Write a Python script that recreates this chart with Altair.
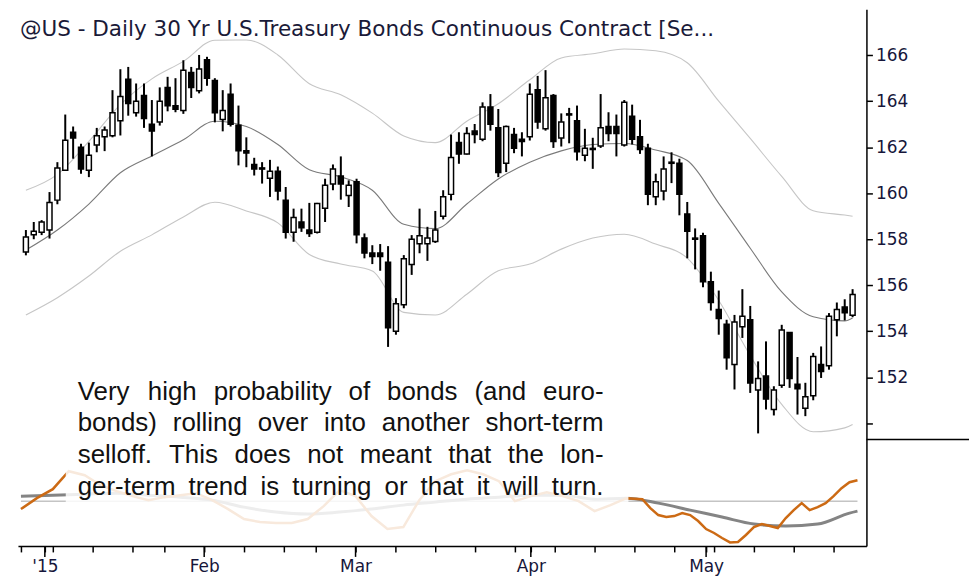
import altair as alt
import pandas as pd

# ---------------- data ----------------
opens = [157.45, 158.2, 158.3, 158.4, 159.7, 161.0, 162.65, 162.0, 161.0, 162.1,
         162.45, 162.5, 163.15, 164.95, 163.5, 164.25, 163.0, 163.1, 164.6, 163.8,
         163.6, 165.25, 164.45, 165.8, 164.9, 163.2, 164.3, 162.95, 161.85, 161.25,
         161.1, 160.65, 160.95, 159.7, 158.3, 158.75, 158.4, 158.3, 159.35, 160.4,
         160.75, 159.9, 160.5, 158.05, 157.4, 157.4, 157.0, 154.0, 155.15, 156.9,
         157.8, 157.8, 157.9, 159.0, 159.95, 162.2, 161.7, 162.7, 162.35, 163.75,
         162.85, 161.3, 162.55, 162.35, 162.45, 164.5, 162.8, 164.25, 162.4, 163.45,
         163.15, 161.65, 161.9, 162.05, 162.9, 162.9, 162.1, 163.35, 162.45, 161.95,
         159.85, 160.1, 161.3, 161.3, 159.1, 158.05, 158.15, 156.15, 154.95, 154.3,
         152.55, 154.2, 154.5, 151.45, 152.05, 150.6, 151.65, 153.95, 151.7, 150.65,
         151.2, 152.55, 152.5, 154.5, 155.05, 154.7]
highs = [158.4, 158.75, 158.83, 160.05, 161.35, 163.42, 162.9, 162.15, 162.2, 162.84,
         162.9, 164.48, 165.39, 165.49, 164.77, 164.77, 164.05, 164.6, 165.06, 165.0,
         165.78, 165.49, 166.01, 165.93, 165.0, 164.48, 164.77, 163.81, 162.43, 161.54,
         161.35, 161.45, 161.16, 160.27, 159.33, 159.33, 159.58, 159.58, 160.63, 161.25,
         161.6, 160.56, 160.63, 158.25, 157.74, 157.79, 157.7, 155.44, 157.31, 158.18,
         159.33, 158.54, 159.23, 160.13, 162.55, 162.65, 162.87, 163.01, 163.95, 164.31,
         163.66, 162.94, 162.84, 162.65, 164.77, 165.1, 165.35, 164.31, 163.47, 163.71,
         163.81, 162.8, 162.41, 164.31, 163.52, 163.42, 164.05, 163.85, 163.19, 162.15,
         160.85, 161.6, 161.78, 161.5, 159.62, 158.47, 158.28, 156.59, 155.77, 154.5,
         154.71, 155.83, 155.1, 152.69, 153.56, 151.61, 154.28, 153.95, 152.88, 151.76,
         153.06, 153.34, 154.79, 155.25, 155.39, 155.83]
lows = [157.3, 158.0, 158.18, 158.03, 159.52, 161.0, 161.5, 160.85, 160.7, 161.78,
        161.83, 162.43, 162.51, 163.37, 163.33, 162.84, 161.6, 162.94, 163.56, 163.52,
        163.45, 164.14, 164.34, 164.67, 163.08, 162.69, 162.9, 161.21, 161.13, 160.77,
        160.42, 159.84, 159.69, 158.03, 157.89, 158.32, 158.1, 158.25, 158.75, 160.13,
        159.72, 159.4, 157.82, 157.17, 156.92, 156.63, 153.32, 153.85, 155.0, 156.45,
        157.39, 157.06, 157.84, 158.86, 159.69, 161.28, 161.68, 162.17, 162.26, 162.72,
        160.7, 160.92, 161.74, 161.6, 162.29, 162.8, 162.72, 161.97, 162.03, 162.17,
        161.42, 161.39, 161.06, 161.97, 162.26, 161.6, 162.03, 162.12, 161.71, 159.48,
        159.48, 159.69, 160.44, 159.04, 157.17, 156.69, 155.91, 154.9, 153.85, 152.33,
        151.47, 153.71, 151.32, 149.56, 150.6, 150.34, 151.54, 151.54, 150.38, 150.31,
        151.0, 151.97, 152.33, 153.78, 154.47, 154.61]
closes = [158.1, 158.35, 158.75, 159.6, 161.1, 162.3, 162.4, 161.05, 161.65, 162.5,
          162.75, 163.5, 164.2, 163.9, 164.0, 163.25, 162.7, 164.0, 163.8, 163.65,
          165.35, 164.6, 165.4, 165.0, 163.5, 163.6, 163.0, 161.85, 161.75, 161.05,
          161.05, 160.95, 160.1, 158.3, 158.95, 158.5, 158.25, 159.55, 160.35, 161.05,
          160.4, 160.35, 158.2, 157.4, 157.25, 157.25, 154.15, 155.2, 157.15, 158.0,
          158.15, 158.05, 158.4, 159.85, 161.55, 161.7, 162.6, 162.55, 163.75, 163.0,
          160.9, 162.9, 161.95, 162.25, 164.3, 163.1, 164.15, 162.25, 163.1, 163.4,
          161.8, 161.95, 161.95, 162.85, 162.6, 162.6, 163.95, 162.35, 161.9, 159.95,
          160.5, 161.05, 161.35, 159.95, 158.35, 158.0, 156.15, 155.25, 154.55, 152.85,
          154.4, 154.65, 151.75, 151.95, 151.05, 151.45, 154.05, 151.95, 151.5, 151.15,
          152.9, 152.25, 154.65, 154.95, 154.8, 155.6]

band_days = [0, 4, 8, 12, 16, 20, 24, 28, 32, 36, 40, 44, 48, 52, 56, 60, 64, 68,
             72, 76, 80, 84, 88, 92, 96, 100, 104, 105]
upper_band = [160.13, 160.82, 162.25, 163.85, 164.97, 165.73, 166.65, 166.66, 166.01,
              164.76, 164.28, 163.48, 162.49, 162.2, 163.13, 163.89, 164.93, 165.88,
              166.06, 166.27, 166.19, 165.67, 164.0, 162.38, 160.73, 159.24, 159.05, 159.0]
middle_band = [157.53, 158.4, 159.53, 160.89, 161.62, 162.32, 163.13, 162.9, 162.12,
               161.02, 160.71, 160.13, 158.65, 158.46, 159.53, 160.62, 161.35, 161.84,
               162.12, 162.16, 161.88, 161.42, 159.56, 157.61, 155.71, 154.63, 154.45, 154.58]
lower_band = [154.71, 155.46, 156.4, 157.48, 158.19, 158.97, 159.61, 159.23, 158.71,
              157.34, 156.92, 156.62, 154.82, 154.71, 155.61, 156.63, 156.92, 157.57,
              158.05, 158.22, 157.79, 157.18, 155.34, 152.94, 150.82, 149.63, 149.8, 149.95]

osc_days = list(range(0, 76, 2)) + list(range(76, 106))
osc_fast = [-8, 3, 12, 30, 26, 16, 10, 5, 1, 4, 6, 8, 1, -8, -18, -21, -22, -22, -18,
            -5, 11, 5, -15, -28, -26, 1, 20, 27, 31, 27, 20, 0, 5, 9, 5, 0, -10, -4,
            3, 2.5, 2, -7, -14, -16, -15, -12, -14, -20, -28, -32, -37, -41.5, -41,
            -34, -26, -23, -25, -27, -17, -9, -2, -9, -6, -2, 5, 13, 19, 21]
osc_slow = [5, 6, 7, 8, 6, 4, 1, -6, -11, -13, -11, -8, -4, -1, 2, 4, 6, 6, 2, 3,
            -2, -9, -16, -23, -25, -23, -12, -10]

month_days = [3, 23, 42, 64, 86]
month_labels = ["'15", "Feb", "Mar", "Apr", "May"]
week_days = [0, 4, 9, 14, 18, 23, 28, 33, 37, 42, 47, 52, 57, 62, 67, 72, 77, 82,
             87, 92, 97, 102]
price_ticks = [150, 152, 154, 156, 158, 160, 162, 164, 166]

title_text = "@US - Daily  30 Yr U.S.Treasury Bonds Continuous Contract [Se..."
note_lines = [
    "Very high probability of bonds (and euro-",
    "bonds) rolling over into another short-term",
    "selloff. This does not meant that the lon-",
    "ger-term trend is turning or that it will turn.",
]

# ---------------- layout constants ----------------
W = 852          # plot width (px)
H_PRICE = 432    # price pane height
H_OSC = 107      # oscillator pane height
X_DOMAIN = [-0.375, 106.125]   # 8 px per trading day
PX_PER_DAY = W / (X_DOMAIN[1] - X_DOMAIN[0])
P_DOMAIN = [149.3, 168.0]
V_DOMAIN = [-45, 62]           # 1 unit per px
AXIS_FONT = "DejaVu Sans"
AXIS_COLOR = "#16163a"

xs = alt.Scale(domain=X_DOMAIN, nice=False, zero=False)
ps = alt.Scale(domain=P_DOMAIN, nice=False, zero=False)
vs = alt.Scale(domain=V_DOMAIN, nice=False, zero=False)

tick_days = sorted(set(week_days + month_days))
label_expr = "".join(
    f"datum.value == {d} ? \"{lab}\" : " for d, lab in zip(month_days, month_labels)
) + "''"

x_axis = alt.Axis(values=tick_days, labelExpr=label_expr, tickSize=6, tickWidth=1.5,
                  tickColor="black", domainColor="black", domainWidth=1.5,
                  labelFont=AXIS_FONT, labelFontSize=17, labelColor=AXIS_COLOR,
                  labelPadding=7, labelOverlap=False, labelFlush=False,
                  grid=False, title=None)
p_axis = alt.Axis(orient="right", values=price_ticks,
                  labelExpr="datum.value == 150 ? '' : datum.label",
                  tickSize=6, tickWidth=1.5, tickColor="black", domainColor="black",
                  domainWidth=1.5, labelFont=AXIS_FONT, labelFontSize=17,
                  labelColor=AXIS_COLOR, labelPadding=3, grid=False, title=None)
v_axis = alt.Axis(orient="right", labels=False, ticks=False, domainColor="black",
                  domainWidth=1.5, grid=False, title=None)

# ---------------- tables ----------------
n = len(opens)
candles = pd.DataFrame({"day": list(range(n)), "open": opens, "high": highs,
                        "low": lows, "close": closes})
bands = pd.DataFrame({
    "day": band_days * 3,
    "price": upper_band + middle_band + lower_band,
    "band": ["upper"] * len(band_days) + ["middle"] * len(band_days) + ["lower"] * len(band_days),
})
fast = pd.DataFrame({"day": osc_days, "v": osc_fast})
slow = pd.DataFrame({"day": band_days, "v": osc_slow})

# ---------------- price pane ----------------
X = alt.X("day:Q", scale=xs, axis=None)
band_lines = alt.Chart(bands).mark_line(strokeWidth=1.1, interpolate="monotone").encode(
    x=X,
    y=alt.Y("price:Q", scale=ps, axis=p_axis),
    detail="band:N",
    color=alt.Color("band:N", legend=None,
                    scale=alt.Scale(domain=["upper", "middle", "lower"],
                                    range=["#c6c6c6", "#7a7a7a", "#c6c6c6"])),
)
wicks = alt.Chart(candles).mark_rule(color="black", strokeWidth=2).encode(
    x=X, y=alt.Y("low:Q", scale=ps, axis=p_axis), y2="high:Q")
bodies = alt.Chart(candles).mark_bar(size=5, stroke="black", strokeWidth=1.5).encode(
    x=X, y=alt.Y("open:Q", scale=ps, axis=p_axis), y2="close:Q",
    fill=alt.condition("datum.close > datum.open", alt.value("white"), alt.value("black")),
)
title_mark = alt.Chart(pd.DataFrame({"t": [title_text]})).mark_text(
    align="left", baseline="alphabetic", font=AXIS_FONT, fontSize=21.6, color="#1a1a38"
).encode(x=alt.value(2), y=alt.value(27), text="t:N")

price_pane = alt.layer(band_lines, wicks, bodies, title_mark).properties(width=W, height=H_PRICE)

# ---------------- oscillator pane ----------------
XO = alt.X("day:Q", scale=xs, axis=x_axis)
YO = alt.Y("v:Q", scale=vs, axis=v_axis)
zero_line = alt.Chart(pd.DataFrame({"day": [0], "day2": [105], "v": [0]})).mark_rule(
    color="#c4c4c4", strokeWidth=1.5).encode(x=XO, x2="day2:Q", y=YO)
slow_line = alt.Chart(slow).mark_line(color="#848484", strokeWidth=3,
                                      interpolate="monotone").encode(x=XO, y=YO)
fast_line = alt.Chart(fast).mark_line(color="#cc6a14", strokeWidth=2.5).encode(x=XO, y=YO)
veil = alt.Chart(pd.DataFrame({"a": [1]})).mark_rect(color="white", opacity=0.85).encode(
    x=alt.value(48), x2=alt.value(613), y=alt.value(-72), y2=alt.value(92))

# justified note text (Arial / Liberation Sans advance widths)
ARIAL = {" ": 278, "(": 333, ")": 333, "-": 333, ".": 278, "a": 556, "b": 556,
         "c": 500, "d": 556, "e": 556, "f": 278, "g": 556, "h": 556, "i": 222,
         "j": 222, "k": 500, "l": 222, "m": 833, "n": 556, "o": 556, "p": 556,
         "q": 556, "r": 333, "s": 500, "t": 278, "u": 556, "v": 500, "w": 722,
         "x": 500, "y": 500, "z": 500, "T": 611, "V": 667}
NOTE_FS = 26
NOTE_LEFT, NOTE_RIGHT = 60, 588          # px inside the pane
NOTE_BASE = [-40, -8, 24, 56]            # baselines, px from pane top


def wlen(s):
    return sum(ARIAL.get(c, 556) for c in s) * NOTE_FS / 1000.0


rows = []
for line, base in zip(note_lines, NOTE_BASE):
    words = line.split(" ")
    total = sum(wlen(w) for w in words)
    gap = (NOTE_RIGHT - NOTE_LEFT - total) / (len(words) - 1)
    px = NOTE_LEFT
    for w in words:
        rows.append({"day": X_DOMAIN[0] + px / PX_PER_DAY, "v": V_DOMAIN[1] - base, "w": w})
        px += wlen(w) + gap
note = alt.Chart(pd.DataFrame(rows)).mark_text(
    align="left", baseline="alphabetic", font="Liberation Sans", fontSize=NOTE_FS,
    color="#111111").encode(x=XO, y=YO, text="w:N")

major_ticks = alt.Chart(pd.DataFrame({"day": month_days})).mark_rule(
    color="black", strokeWidth=1.5).encode(x=XO, y=alt.value(H_OSC), y2=alt.value(H_OSC + 11))
separator = alt.Chart(pd.DataFrame({"a": [1]})).mark_rule(color="black", strokeWidth=1.5).encode(
    x=alt.value(W), x2=alt.value(955), y=alt.value(0))

osc_pane = alt.layer(zero_line, slow_line, fast_line, veil, note, major_ticks, separator).properties(
    width=W, height=H_OSC)

chart = alt.vconcat(price_pane, osc_pane, spacing=0, bounds="flush").properties(
    padding={"left": 7, "top": 0, "right": 0, "bottom": 0}, background="white"
).configure_view(stroke=None)

chart.save("out.html", embed_options={"renderer": "svg", "actions": False})
